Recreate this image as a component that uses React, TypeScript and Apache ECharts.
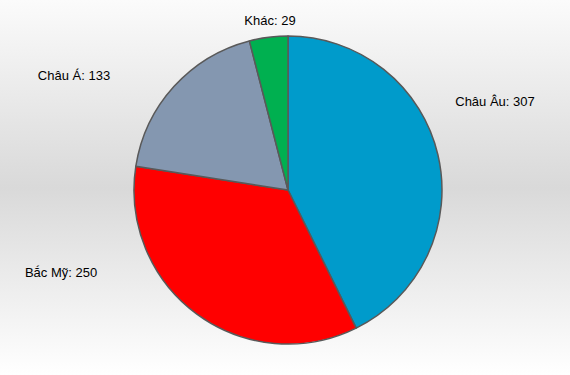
import React, { useEffect, useRef } from "react";
import * as echarts from "echarts";

const categories = ["Châu Âu", "Bắc Mỹ", "Châu Á", "Khác"];
const values = [307, 250, 133, 29];
const colors = ["#009BCB", "#FF0000", "#8497B0", "#00B050"];
// label centres in px (chart coordinates)
const labelPos: [number, number][] = [
  [495, 101],
  [61, 272],
  [74, 75],
  [270, 20],
];

export default function App() {
  const ref = useRef<HTMLDivElement>(null);
  useEffect(() => {
    document.body.style.margin = "0";
    const chart = echarts.init(ref.current!, null, { renderer: "svg" });
    chart.setOption({
      animation: false,
      backgroundColor: {
        type: "linear",
        x: 0,
        y: 0,
        x2: 0,
        y2: 1,
        colorStops: [
          { offset: 0, color: "#fbfbfb" },
          { offset: 0.5, color: "#d9d9d9" },
          { offset: 1, color: "#ffffff" },
        ],
      },
      series: [
        {
          type: "pie",
          center: [288, 190],
          radius: [0, 154],
          startAngle: 90,
          clockwise: true,
          data: categories.map((c, i) => ({
            name: c,
            value: values[i],
            itemStyle: { color: colors[i] },
          })),
          itemStyle: { borderColor: "#595959", borderWidth: 1.5 },
          label: {
            show: true,
            position: "outside",
            formatter: "{b}: {c}",
            color: "#000",
            fontSize: 13,
            fontFamily: "Liberation Sans, Arial, sans-serif",
            overflow: "none",
            width: 200,
          },
          labelLine: { show: false },
          labelLayout: (p: any) => ({
            x: labelPos[p.dataIndex][0],
            y: labelPos[p.dataIndex][1],
            align: "center",
            verticalAlign: "middle",
          }),
          emphasis: { disabled: true },
        },
      ],
    });
    return () => chart.dispose();
  }, []);
  return <div ref={ref} style={{ width: 570, height: 375 }} />;
}
